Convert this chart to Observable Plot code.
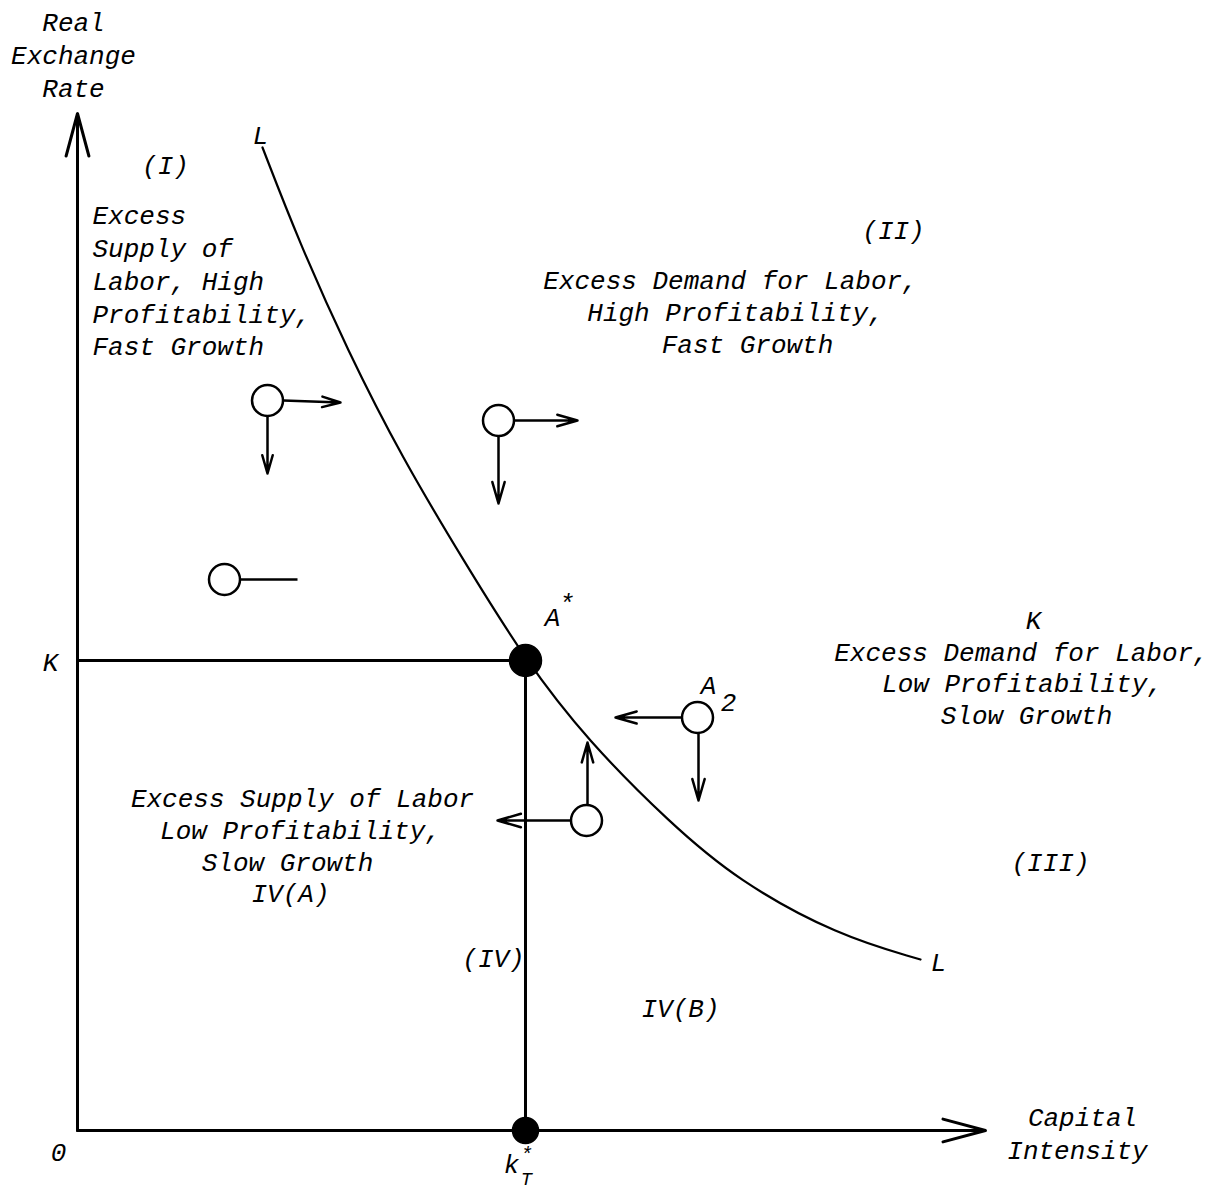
<!DOCTYPE html>
<html>
<head>
<meta charset="utf-8">
<script src="https://cdn.jsdelivr.net/npm/d3@7"></script>
<script src="https://cdn.jsdelivr.net/npm/@observablehq/plot@0.6"></script>
<style>
  html, body { margin: 0; padding: 0; background: #fff; }
</style>
</head>
<body>
<div id="chart"></div>
<script>
// Equilibrium point
const kT = 44.8;      // capital intensity k*_T
const Kval = 47.0;    // real exchange rate K

// Curve L (capital intensity, real exchange rate)
const curveL = [
  [18.5, 98.3], [22.1, 89.0], [27.0, 78.0], [32.5, 67.2], [38.6, 57.0],
  [kT, Kval], [51.0, 39.0], [59.3, 30.7], [66.0, 25.0], [76.0, 19.5],
  [84.3, 17.1]
];

// Axes extents
const yAxisTop = 101.7;
const xAxisEnd = 90.8;

// Open circles (disequilibrium points)
const openPoints = [
  {name: "C1", x: 19.0, y: 73.0},
  {name: "C2", x: 42.1, y: 71.0},
  {name: "C3", x: 14.7, y: 55.1},
  {name: "A2", x: 62.0, y: 41.3},
  {name: "C5", x: 50.9, y: 31.0}
];

// Movement arrows
const moveArrows = [
  {x1: 20.6, y1: 73.0, x2: 26.3, y2: 72.8},
  {x1: 19.0, y1: 71.4, x2: 19.0, y2: 65.7},
  {x1: 43.7, y1: 71.0, x2: 50.0, y2: 71.0},
  {x1: 42.1, y1: 69.4, x2: 42.1, y2: 62.7},
  {x1: 60.4, y1: 41.3, x2: 53.8, y2: 41.3},
  {x1: 62.1, y1: 39.7, x2: 62.1, y2: 33.0},
  {x1: 49.3, y1: 31.0, x2: 42.0, y2: 31.0},
  {x1: 51.0, y1: 32.6, x2: 51.0, y2: 38.8}
];
// Stub without arrowhead
const stubLines = [
  {x1: 16.2, y1: 55.1, x2: 22.0, y2: 55.1}
];

// Centered labels
const centerLabels = [
  {t: "Real", x: -0.4, y: 110.8, s: 26},
  {t: "Exchange", x: -0.4, y: 107.5, s: 26},
  {t: "Rate", x: -0.4, y: 104.2, s: 26},
  {t: "(I)", x: 8.8, y: 96.5, s: 26},
  {t: "L", x: 18.3, y: 99.5, s: 26},
  {t: "(II)", x: 81.6, y: 90.0, s: 26},
  {t: "Excess Demand for Labor,", x: 65.3, y: 85.0, s: 26},
  {t: "High Profitability,", x: 65.8, y: 81.8, s: 26},
  {t: "Fast Growth", x: 67.0, y: 78.6, s: 26},
  {t: "A", x: 47.5, y: 51.3, s: 26},
  {t: "*", x: 48.9, y: 52.7, s: 26},
  {t: "K", x: 95.6, y: 51.0, s: 26},
  {t: "Excess Demand for Labor,", x: 94.4, y: 47.8, s: 26},
  {t: "Low Profitability,", x: 94.5, y: 44.7, s: 26},
  {t: "Slow Growth", x: 94.9, y: 41.5, s: 26},
  {t: "K", x: -2.7, y: 46.8, s: 26},
  {t: "A", x: 63.1, y: 44.5, s: 26},
  {t: "2", x: 65.1, y: 42.8, s: 26},
  {t: "Excess Supply of Labor", x: 22.5, y: 33.2, s: 26},
  {t: "Low Profitability,", x: 22.3, y: 30.0, s: 26},
  {t: "Slow Growth", x: 21.0, y: 26.8, s: 26},
  {t: "IV(A)", x: 21.3, y: 23.7, s: 26},
  {t: "(III)", x: 97.3, y: 26.8, s: 26},
  {t: "L", x: 86.1, y: 16.8, s: 26},
  {t: "(IV)", x: 41.6, y: 17.2, s: 26},
  {t: "IV(B)", x: 60.3, y: 12.2, s: 26},
  {t: "0", x: -1.9, y: -2.2, s: 26},
  {t: "k", x: 43.4, y: -3.4, s: 26},
  {t: "*", x: 44.9, y: -2.4, s: 20},
  {t: "T", x: 44.9, y: -4.8, s: 19},
  {t: "Capital", x: 100.5, y: 1.3, s: 26},
  {t: "Intensity", x: 100.0, y: -2.0, s: 26}
];

// Left-aligned labels (region I)
const leftLabels = [
  {t: "Excess", x: 1.5, y: 91.5},
  {t: "Supply of", x: 1.5, y: 88.2},
  {t: "Labor, High", x: 1.5, y: 84.9},
  {t: "Profitability,", x: 1.5, y: 81.6},
  {t: "Fast Growth", x: 1.5, y: 78.4}
];

const font = "'Liberation Mono', 'Courier New', monospace";

const chart = Plot.plot({
  width: 1232,
  height: 1195,
  margin: 0,
  x: {domain: [-7.7, 115.5], axis: null},
  y: {domain: [-6.5, 113], axis: null},
  style: {background: "#fff"},
  marks: [
    // axes
    Plot.arrow([{x1: 0, y1: 0, x2: 0, y2: yAxisTop}], {
      x1: "x1", y1: "y1", x2: "x2", y2: "y2",
      stroke: "black", strokeWidth: 3, headLength: 22, headAngle: 30
    }),
    Plot.arrow([{x1: 0, y1: 0, x2: xAxisEnd, y2: 0}], {
      x1: "x1", y1: "y1", x2: "x2", y2: "y2",
      stroke: "black", strokeWidth: 3, headLength: 22, headAngle: 30
    }),
    // K horizontal and k*_T vertical lines
    Plot.link([{x1: 0, y1: Kval, x2: kT, y2: Kval}], {
      x1: "x1", y1: "y1", x2: "x2", y2: "y2", stroke: "black", strokeWidth: 3
    }),
    Plot.link([{x1: kT, y1: Kval, x2: kT, y2: 0}], {
      x1: "x1", y1: "y1", x2: "x2", y2: "y2", stroke: "black", strokeWidth: 3
    }),
    // curve L
    Plot.line(curveL, {
      x: d => d[0], y: d => d[1], curve: "basis",
      stroke: "black", strokeWidth: 2.2
    }),
    // movement arrows
    Plot.arrow(moveArrows, {
      x1: "x1", y1: "y1", x2: "x2", y2: "y2",
      stroke: "black", strokeWidth: 2.5, headLength: 16, headAngle: 32
    }),
    Plot.link(stubLines, {
      x1: "x1", y1: "y1", x2: "x2", y2: "y2", stroke: "black", strokeWidth: 2.5
    }),
    // open circles
    Plot.dot(openPoints, {
      x: "x", y: "y", r: 15.5, fill: "white", stroke: "black", strokeWidth: 2.5
    }),
    // filled equilibrium dots
    Plot.dot([{x: kT, y: Kval}], {
      x: "x", y: "y", r: 16, fill: "black", stroke: "black"
    }),
    Plot.dot([{x: kT, y: 0}], {
      x: "x", y: "y", r: 13, fill: "black", stroke: "black"
    }),
    // labels
    Plot.text(centerLabels, {
      x: "x", y: "y", text: "t", fontSize: "s",
      fontFamily: font, fontStyle: "italic", fill: "black",
      textAnchor: "middle", lineAnchor: "middle"
    }),
    Plot.text(leftLabels, {
      x: "x", y: "y", text: "t", fontSize: 26,
      fontFamily: font, fontStyle: "italic", fill: "black",
      textAnchor: "start", lineAnchor: "middle"
    })
  ]
});

document.getElementById("chart").appendChild(chart);
</script>
</body>
</html>
